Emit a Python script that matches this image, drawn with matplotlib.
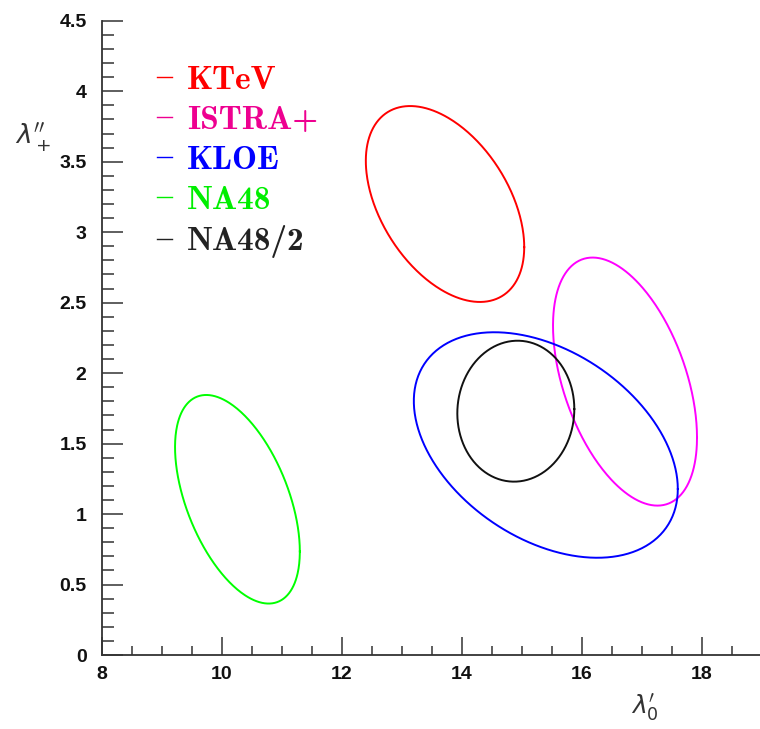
import numpy as np
import matplotlib
matplotlib.use("Agg")
import matplotlib.pyplot as plt
from matplotlib.ticker import MultipleLocator

# 1-sigma contours in the (lambda'_0, lambda''_+) plane
experiments = ['KTeV', 'ISTRA+', 'KLOE', 'NA48', 'NA48/2']
mean_x = [13.72, 16.72, 15.40, 10.26, 14.90]
mean_y = [3.20, 1.94, 1.49, 1.105, 1.73]
sigma_x = [1.32, 1.20, 2.20, 1.04, 0.975]
sigma_y = [0.695, 0.88, 0.80, 0.74, 0.50]
rho = [-0.44, -0.45, -0.39, -0.50, 0.03]

line_colors = ['#ff0000', '#ff00ff', '#0000ff', '#00ff00', '#111111']
text_colors = ['#ff0000', '#ee0090', '#0000ff', '#00ee00', '#222222']

fig = plt.figure(figsize=(7.6, 7.29), dpi=100)
ax = fig.add_axes([0.134, 0.1015, 0.866, 0.870])

t = np.linspace(0, 2 * np.pi, 400)
lines = []
for name, mx, my, sx, sy, r, col in zip(experiments, mean_x, mean_y, sigma_x, sigma_y, rho, line_colors):
    x = mx + sx * np.cos(t)
    y = my + sy * (r * np.cos(t) + np.sqrt(1 - r ** 2) * np.sin(t))
    l, = ax.plot(x, y, color=col, lw=1.4, label=name)
    lines.append(l)

ax.set_xlim(8, 18.97)
ax.set_ylim(0, 4.5)

ax.spines['top'].set_visible(False)
ax.spines['right'].set_visible(False)
for s in ['left', 'bottom']:
    ax.spines[s].set_linewidth(1.3)
    ax.spines[s].set_color('#333333')

ax.xaxis.set_major_locator(MultipleLocator(2))
ax.xaxis.set_minor_locator(MultipleLocator(0.5))
ax.yaxis.set_major_locator(MultipleLocator(0.5))
ax.yaxis.set_minor_locator(MultipleLocator(0.1))
ax.yaxis.set_major_formatter(plt.FuncFormatter(lambda v, p: '%g' % v))

ax.tick_params(axis='x', which='major', direction='in', length=13, width=1.1, pad=8, color='#333333')
ax.tick_params(axis='x', which='minor', direction='in', length=6.5, width=1.1, color='#333333')
ax.tick_params(axis='y', which='major', direction='in', length=15, width=1.1, pad=11, color='#333333')
ax.tick_params(axis='y', which='minor', direction='in', length=8.3, width=1.1, color='#333333')
for lab in ax.get_xticklabels() + ax.get_yticklabels():
    lab.set_fontfamily('Liberation Sans')
    lab.set_fontweight('bold')
    lab.set_fontsize(14)
    lab.set_color('#111111')

ax.set_xlabel(r"$\lambda_0^{\prime}$", fontsize=18, color='#333333')
ax.xaxis.set_label_coords(0.825, -0.058)
ax.set_ylabel(r"$\lambda_+^{\prime\prime}$", fontsize=19, color='#333333', rotation=0)
ax.yaxis.set_label_coords(-0.105, 0.79)

leg = ax.legend(handles=lines, loc='upper left', bbox_to_anchor=(0.063, 0.951),
                frameon=False, handlelength=0.45, handletextpad=0.45,
                labelspacing=0.32, borderaxespad=0,
                prop={'family': 'cmb10', 'size': 24})
for txt, col in zip(leg.get_texts(), text_colors):
    txt.set_color(col)
for h, col in zip(leg.get_lines(), text_colors):
    h.set_color(col)
    h.set_linewidth(1.0)

fig.savefig('out.png', dpi=100)
